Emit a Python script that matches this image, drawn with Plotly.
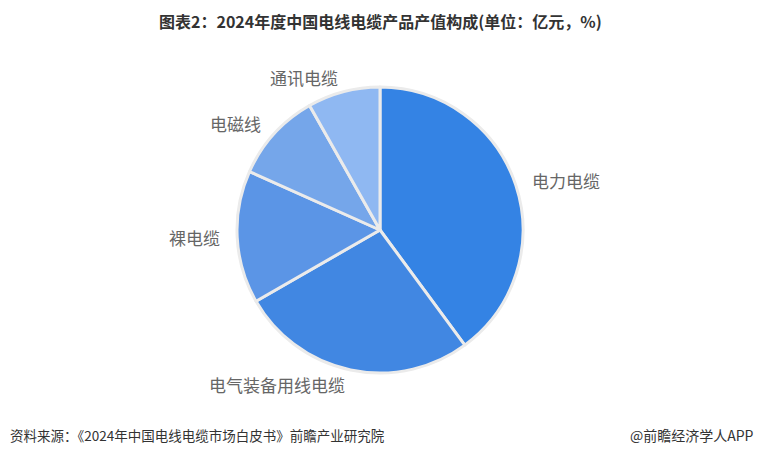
import math
import plotly.graph_objects as go

categories = ["电力电缆", "电气装备用线电缆", "裸电缆", "电磁线", "通讯电缆"]
values = [39.9, 26.8, 15.0, 10.1, 8.2]
colors = ["#3483e4", "#4187e2", "#5b95e6", "#75a6ea", "#8fb8f2"]

W, H = 760, 454
cx, cy, r = 380, 230, 143
label_r = r + 15

fig = go.Figure(go.Pie(
    labels=categories, values=values, sort=False, direction="clockwise", rotation=0,
    marker=dict(colors=colors, line=dict(color="#ebebeb", width=3)),
    textinfo="none", hoverinfo="label+value", showlegend=False,
    domain=dict(x=[(cx - r) / W, (cx + r) / W], y=[(H - cy - r) / H, (H - cy + r) / H]),
))

total = sum(values)
cum = 0.0
annotations = []
for name, v in zip(categories, values):
    mid = (cum + v / 2) / total * 2 * math.pi
    cum += v
    dx, dy = math.sin(mid), -math.cos(mid)
    px, py = cx + label_r * dx, cy + label_r * dy
    annotations.append(dict(
        x=px / W, y=1 - py / H, xref="paper", yref="paper", text=name, showarrow=False,
        xanchor="left" if dx > 0 else "right", yanchor="middle",
        font=dict(size=17, color="#666666", family="Noto Sans CJK SC"),
    ))

annotations += [
    dict(x=0.5, y=1 - 21 / H, xref="paper", yref="paper", showarrow=False, xanchor="center", yanchor="middle",
         text="<b>图表2：2024年度中国电线电缆产品产值构成(单位：亿元，%)</b>",
         font=dict(size=16, color="#333333", family="Noto Sans CJK SC")),
    dict(x=8 / W, y=1 - 435 / H, xref="paper", yref="paper", showarrow=False, xanchor="left", yanchor="middle",
         text="资料来源：《2024年中国电线电缆市场白皮书》前瞻产业研究院",
         font=dict(size=13.5, color="#333333", family="Noto Sans CJK SC")),
    dict(x=756 / W, y=1 - 435 / H, xref="paper", yref="paper", showarrow=False, xanchor="right", yanchor="middle",
         text="@前瞻经济学人APP",
         font=dict(size=14, color="#333333", family="Noto Sans CJK SC")),
]

fig.update_layout(
    width=W, height=H, margin=dict(l=0, r=0, t=0, b=0),
    paper_bgcolor="white", plot_bgcolor="white",
    annotations=annotations,
)
fig.write_html("out.html", config={"displayModeBar": False},
               post_script="document.body.style.margin='0';document.body.style.padding='0';document.body.style.overflow='hidden';")
